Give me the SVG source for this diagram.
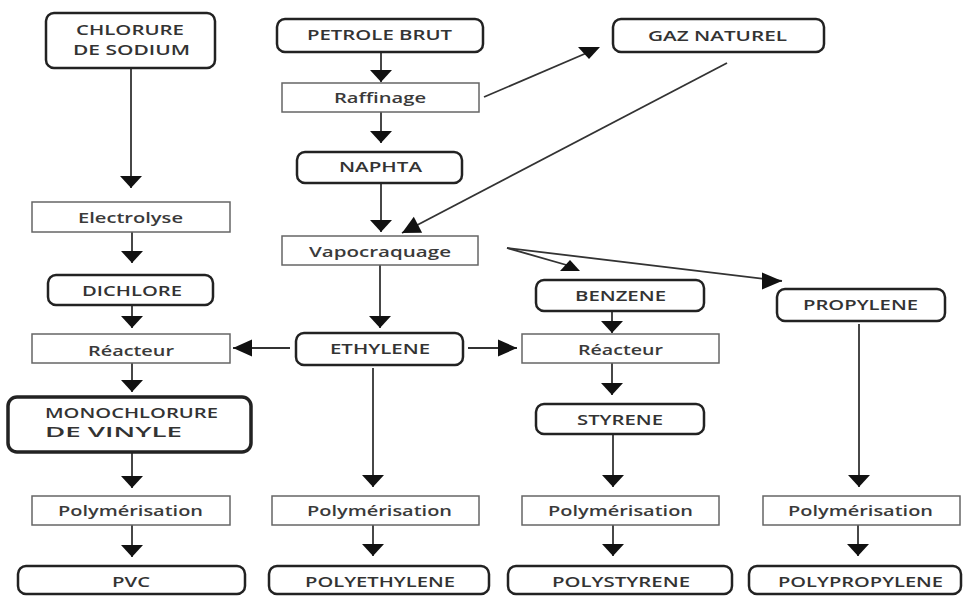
<svg xmlns="http://www.w3.org/2000/svg" width="965" height="596" viewBox="0 0 965 596">
  <style>
    .prod rect { fill: #fff; stroke: #222; stroke-width: 2.5; }
    .proc rect { fill: #fff; stroke: #666; stroke-width: 1.5; }
    text { font-family: "Open Sans", "Liberation Sans", sans-serif; font-size: 15px; fill: #333; }
    .prod text { font-weight: 600; text-anchor: middle; }
    .proc text { font-weight: 600; text-anchor: middle; fill: #3a3a3a; }
    #connectors path { fill: none; stroke: #333; stroke-width: 1.8; }
  </style>
  <defs>
    <!-- arrowheads: default follows the line; fixed variants keep a set orientation -->
    <marker id="arr" markerUnits="userSpaceOnUse" markerWidth="12" markerHeight="22" refX="12" refY="11" orient="auto" overflow="visible">
      <path d="M0,0 L12,11 L0,22 Z" fill="#111"/>
    </marker>
    <marker id="arrH" markerUnits="userSpaceOnUse" markerWidth="19" markerHeight="17" refX="19" refY="8.5" orient="auto" overflow="visible">
      <path d="M0,0 L19,8.5 L0,17 Z" fill="#111"/>
    </marker>
    <marker id="arrDown" markerUnits="userSpaceOnUse" markerWidth="12" markerHeight="22" refX="5" refY="11" orient="90" overflow="visible">
      <path d="M0,0 L12,11 L0,22 Z" fill="#111"/>
    </marker>
    <marker id="arrUp" markerUnits="userSpaceOnUse" markerWidth="11" markerHeight="20" refX="5" refY="10" orient="-90" overflow="visible">
      <path d="M0,0 L11,10 L0,20 Z" fill="#111"/>
    </marker>
    <marker id="arrRight" markerUnits="userSpaceOnUse" markerWidth="20" markerHeight="17" refX="20" refY="8.5" orient="0" overflow="visible">
      <path d="M0,0 L20,8.5 L0,17 Z" fill="#111"/>
    </marker>
    <marker id="arrDiag" markerUnits="userSpaceOnUse" markerWidth="18" markerHeight="18" refX="18" refY="9" orient="auto" overflow="visible">
      <path d="M0,0 L18,9 L0,18 Z" fill="#111"/>
    </marker>
  </defs>

  <g id="connectors">
    <path d="M131,68 V188" marker-end="url(#arr)"/>
    <path d="M132,232 V263" marker-end="url(#arr)"/>
    <path d="M132,305 V328" marker-end="url(#arr)"/>
    <path d="M132,363 V392" marker-end="url(#arr)"/>
    <path d="M132,452 V488" marker-end="url(#arr)"/>
    <path d="M132,525 V557" marker-end="url(#arr)"/>
    <path d="M381,52 V82" marker-end="url(#arr)"/>
    <path d="M381,112 V143" marker-end="url(#arr)"/>
    <path d="M381,183 V232" marker-end="url(#arr)"/>
    <path d="M484,97 L589,52" marker-end="url(#arrDown)"/>
    <path d="M727,63 L402,233" marker-end="url(#arrDiag)"/>
    <path d="M380,265 V328" marker-end="url(#arr)"/>
    <path d="M290,348 H233" marker-end="url(#arrH)"/>
    <path d="M468,348 H517" marker-end="url(#arrH)"/>
    <path d="M507,248 L570,266" marker-end="url(#arrUp)"/>
    <path d="M507,248 L782,281" marker-end="url(#arrRight)"/>
    <path d="M612,311 V333" marker-end="url(#arr)"/>
    <path d="M612,363 V395" marker-end="url(#arr)"/>
    <path d="M613,434 V487" marker-end="url(#arr)"/>
    <path d="M613,525 V556" marker-end="url(#arr)"/>
    <path d="M373,368 V487" marker-end="url(#arr)"/>
    <path d="M373,525 V556" marker-end="url(#arr)"/>
    <path d="M859,324 V487" marker-end="url(#arr)"/>
    <path d="M858,525 V556" marker-end="url(#arr)"/>
  </g>

  <!-- products (rounded boxes) -->
  <g id="chlorure" class="prod">
    <rect x="46" y="13" width="169" height="55" rx="8"/>
    <text x="130" y="35" textLength="108" lengthAdjust="spacingAndGlyphs">CHLORURE</text>
    <text x="131.5" y="55" textLength="117" lengthAdjust="spacingAndGlyphs">DE SODIUM</text>
  </g>
  <g id="petrole" class="prod">
    <rect x="277" y="19" width="206" height="33" rx="8"/>
    <text x="379.5" y="40" textLength="145" lengthAdjust="spacingAndGlyphs">PETROLE BRUT</text>
  </g>
  <g id="gaz" class="prod">
    <rect x="613" y="19" width="211" height="33" rx="8"/>
    <text x="717.5" y="41" textLength="139" lengthAdjust="spacingAndGlyphs">GAZ NATUREL</text>
  </g>
  <g id="naphta" class="prod">
    <rect x="297" y="152" width="165" height="31" rx="8"/>
    <text x="380.5" y="172" textLength="83" lengthAdjust="spacingAndGlyphs">NAPHTA</text>
  </g>
  <g id="dichlore" class="prod">
    <rect x="48" y="275" width="165" height="30" rx="8"/>
    <text x="132" y="296" textLength="100" lengthAdjust="spacingAndGlyphs">DICHLORE</text>
  </g>
  <g id="ethylene" class="prod">
    <rect x="296" y="333" width="167" height="32" rx="8"/>
    <text x="380" y="354" textLength="100" lengthAdjust="spacingAndGlyphs">ETHYLENE</text>
  </g>
  <g id="benzene" class="prod">
    <rect x="536" y="280" width="168" height="31" rx="8"/>
    <text x="620.5" y="301" textLength="91" lengthAdjust="spacingAndGlyphs">BENZENE</text>
  </g>
  <g id="propylene" class="prod">
    <rect x="777" y="289" width="168" height="32" rx="8"/>
    <text x="860.5" y="310" textLength="115" lengthAdjust="spacingAndGlyphs">PROPYLENE</text>
  </g>
  <g id="monochlorure" class="prod">
    <rect x="8" y="397" width="243" height="55" rx="9" style="stroke-width:3.5"/>
    <text x="45" y="418" textLength="173" lengthAdjust="spacingAndGlyphs" style="text-anchor:start">MONOCHLORURE</text>
    <text x="45" y="437" textLength="137" lengthAdjust="spacingAndGlyphs" style="text-anchor:start">DE VINYLE</text>
  </g>
  <g id="styrene" class="prod">
    <rect x="536" y="404" width="168" height="30" rx="8"/>
    <text x="620" y="425" textLength="86" lengthAdjust="spacingAndGlyphs">STYRENE</text>
  </g>
  <g id="pvc" class="prod">
    <rect x="18" y="566" width="227" height="28" rx="8"/>
    <text x="131" y="587" textLength="38" lengthAdjust="spacingAndGlyphs">PVC</text>
  </g>
  <g id="polyethylene" class="prod">
    <rect x="269" y="566" width="220" height="28" rx="8"/>
    <text x="380" y="587" textLength="150" lengthAdjust="spacingAndGlyphs">POLYETHYLENE</text>
  </g>
  <g id="polystyrene" class="prod">
    <rect x="508" y="566" width="224" height="28" rx="8"/>
    <text x="621" y="587" textLength="138" lengthAdjust="spacingAndGlyphs">POLYSTYRENE</text>
  </g>
  <g id="polypropylene" class="prod">
    <rect x="749" y="566" width="212" height="28" rx="8"/>
    <text x="860.5" y="587" textLength="165" lengthAdjust="spacingAndGlyphs">POLYPROPYLENE</text>
  </g>

  <!-- processes (plain boxes) -->
  <g id="raffinage" class="proc">
    <rect x="282" y="83" width="197" height="29"/>
    <text x="380" y="103" textLength="92" lengthAdjust="spacingAndGlyphs">Raffinage</text>
  </g>
  <g id="electrolyse" class="proc">
    <rect x="32" y="202" width="198" height="30"/>
    <text x="130.5" y="223" textLength="105" lengthAdjust="spacingAndGlyphs">Electrolyse</text>
  </g>
  <g id="vapocraquage" class="proc">
    <rect x="282" y="236" width="196" height="29"/>
    <text x="380" y="257" textLength="142" lengthAdjust="spacingAndGlyphs">Vapocraquage</text>
  </g>
  <g id="reacteur-1" class="proc">
    <rect x="32" y="334" width="198" height="29"/>
    <text x="131" y="356" textLength="86" lengthAdjust="spacingAndGlyphs">Réacteur</text>
  </g>
  <g id="reacteur-2" class="proc">
    <rect x="522" y="334" width="197" height="29"/>
    <text x="620.5" y="355" textLength="85" lengthAdjust="spacingAndGlyphs">Réacteur</text>
  </g>
  <g id="polymerisation-1" class="proc">
    <rect x="32" y="496" width="198" height="29"/>
    <text x="130.5" y="516" textLength="145" lengthAdjust="spacingAndGlyphs">Polymérisation</text>
  </g>
  <g id="polymerisation-2" class="proc">
    <rect x="272" y="496" width="207" height="29"/>
    <text x="379.5" y="516" textLength="145" lengthAdjust="spacingAndGlyphs">Polymérisation</text>
  </g>
  <g id="polymerisation-3" class="proc">
    <rect x="522" y="496" width="197" height="29"/>
    <text x="620.5" y="516" textLength="145" lengthAdjust="spacingAndGlyphs">Polymérisation</text>
  </g>
  <g id="polymerisation-4" class="proc">
    <rect x="763" y="496" width="197" height="29"/>
    <text x="860.5" y="516" textLength="145" lengthAdjust="spacingAndGlyphs">Polymérisation</text>
  </g>
</svg>
